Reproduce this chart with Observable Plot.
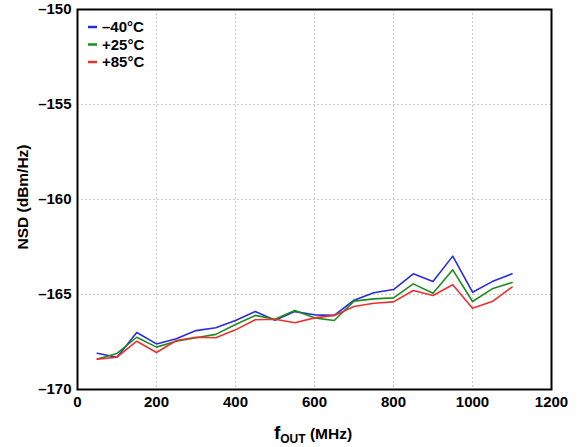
<!DOCTYPE html>
<html>
<head>
<meta charset="utf-8">
<script src="https://cdn.jsdelivr.net/npm/d3@7"></script>
<script src="https://cdn.jsdelivr.net/npm/@observablehq/plot@0.6"></script>
<style>
  html, body { margin: 0; padding: 0; background: #fff; }
  svg { display: block; }
  g[aria-label$="tick label"] text { font-size: 15px !important; font-weight: bold !important; font-family: 'Liberation Sans', Arial, sans-serif !important; fill: #000; }
</style>
</head>
<body>
<div id="chart"></div>
<script>
const freq = [50, 100, 150, 200, 250, 300, 350, 400, 450, 500, 550, 600, 650, 700, 750, 800, 850, 900, 950, 1000, 1050, 1100];
const nsdM40 = [-168.09, -168.3, -167.0, -167.6, -167.33, -166.9, -166.75, -166.37, -165.9, -166.35, -165.9, -166.07, -166.1, -165.3, -164.91, -164.74, -163.91, -164.32, -162.98, -164.88, -164.32, -163.91];
const nsdP25 = [-168.39, -168.1, -167.25, -167.77, -167.46, -167.28, -167.1, -166.58, -166.1, -166.3, -165.84, -166.23, -166.37, -165.35, -165.23, -165.18, -164.44, -164.93, -163.7, -165.37, -164.7, -164.37];
const nsdP85 = [-168.4, -168.3, -167.46, -168.05, -167.42, -167.25, -167.28, -166.86, -166.33, -166.3, -166.49, -166.23, -166.1, -165.63, -165.46, -165.39, -164.79, -165.05, -164.49, -165.72, -165.37, -164.61];
const seriesNames = ["\u201340°C", "+25°C", "+85°C"];
const seriesColors = ["#2b2bdf", "#1e8c1e", "#e83232"];
const xTicks = [0, 200, 400, 600, 800, 1000, 1200];
const yTicks = [-170, -165, -160, -155, -150];

const seriesValues = [nsdM40, nsdP25, nsdP85];
const data = [];
seriesValues.forEach((vals, s) => vals.forEach((v, i) => data.push({f: freq[i], nsd: v, series: seriesNames[s]})));
const legend = seriesNames.map((name, i) => ({name, row: i}));

const W = 578, H = 447;
const mL = 77, mR = 27, mT = 9, mB = 58;
const FONT = "'Liberation Sans', Arial, sans-serif";
const fmt = d => d < 0 ? "\u2013" + Math.abs(d) : String(d);

const plot = Plot.plot({
  width: W, height: H,
  marginLeft: mL, marginRight: mR, marginTop: mT, marginBottom: mB,
  style: {fontFamily: FONT, fontSize: "15px", fontWeight: "bold", color: "#000", background: "#fff"},
  x: {domain: [0, 1200], label: null},
  y: {domain: [-170, -150], label: null},
  color: {domain: seriesNames, range: seriesColors},
  marks: [
    Plot.gridX(xTicks.filter(t => t > 0 && t < 1200), {stroke: "#c8c8c8", strokeOpacity: 1, strokeDasharray: "2,2"}),
    Plot.gridY(yTicks.filter(t => t > -170 && t < -150), {stroke: "#c8c8c8", strokeOpacity: 1, strokeDasharray: "2,2"}),
    Plot.line(data, {x: "f", y: "nsd", z: "series", stroke: "series", strokeWidth: 1.6}),
    Plot.frame({stroke: "#000", strokeWidth: 2}),
    Plot.axisX({ticks: xTicks, tickFormat: fmt, tickSize: 0, tickPadding: 7, label: null}),
    Plot.axisY({ticks: yTicks, tickFormat: fmt, tickSize: 0, tickPadding: 6, label: null})
  ]
});
document.getElementById("chart").appendChild(plot);

// Legend (inside plot area, top-left)
const svg = d3.select(plot);
const lg = svg.append("g").attr("font-family", FONT).attr("font-weight", "bold").attr("font-size", 15).attr("text-anchor", "start").attr("fill", "#000");
legend.forEach(d => {
  const y = 27 + d.row * 17.5;
  lg.append("line").attr("x1", 88).attr("x2", 97).attr("y1", y).attr("y2", y)
    .attr("stroke", seriesColors[d.row]).attr("stroke-width", 2.5);
  lg.append("text").attr("x", 102).attr("y", y).attr("dy", "0.36em").text(d.name);
});

// Axis titles
const t = svg.append("g").attr("font-family", FONT).attr("font-weight", "bold").attr("fill", "#000");
const xt = t.append("text").attr("x", 313).attr("y", 439).attr("text-anchor", "middle");
xt.append("tspan").attr("font-size", 19).text("f");
xt.append("tspan").attr("font-size", 12).attr("dy", 4).text("OUT");
xt.append("tspan").attr("font-size", 15.5).attr("dy", -4).text(" (MHz)");
t.append("text").attr("transform", "translate(28,197) rotate(-90)").attr("text-anchor", "middle").attr("font-size", 15.5).text("NSD (dBm/Hz)");
</script>
</body>
</html>
